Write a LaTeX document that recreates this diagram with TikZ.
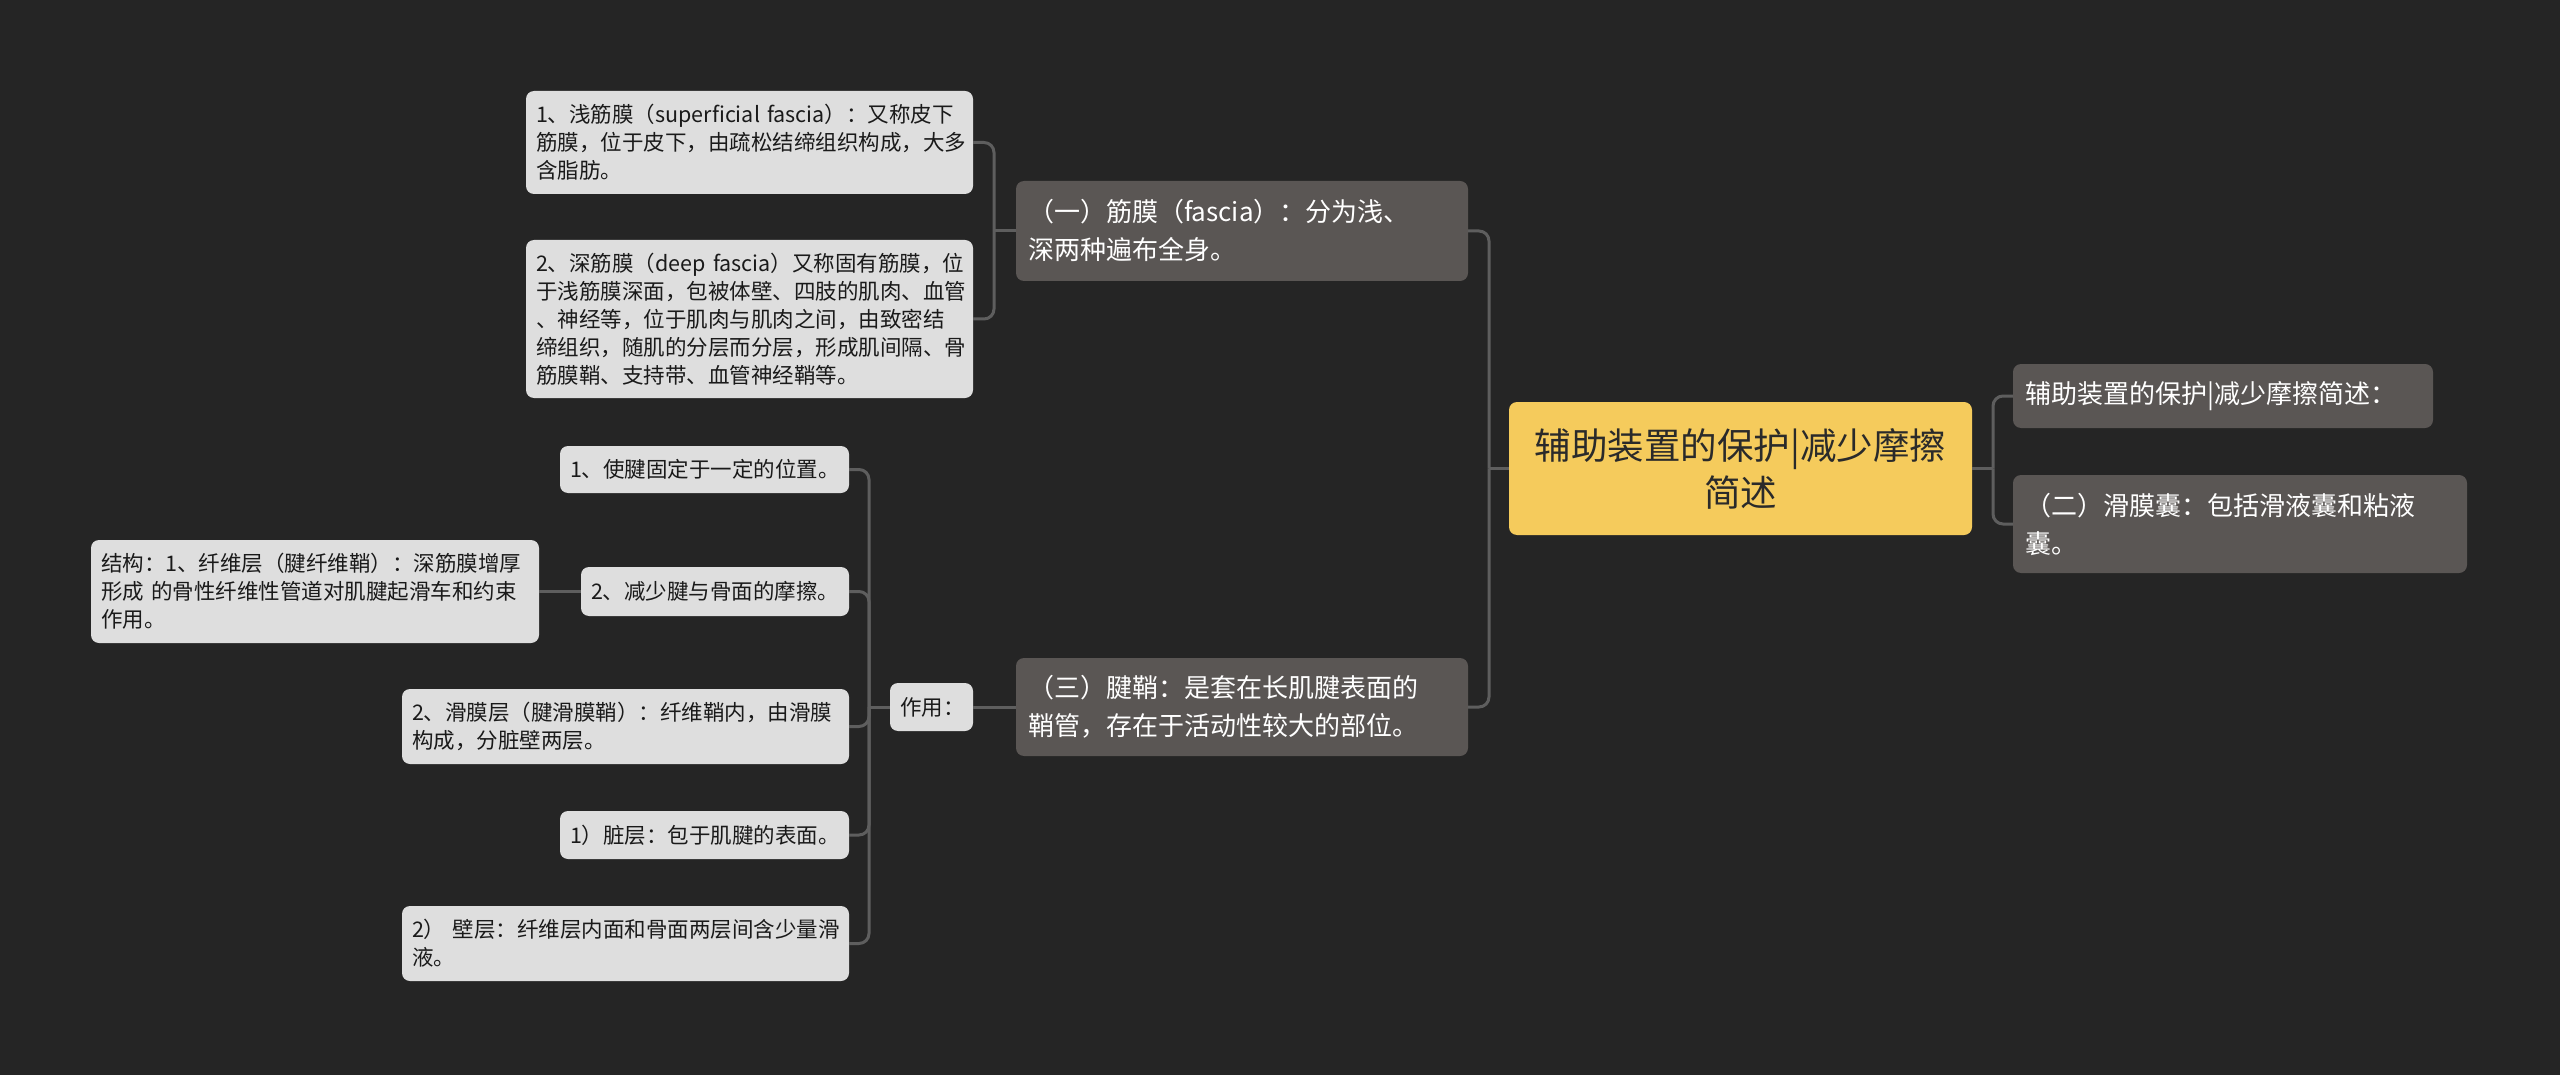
\documentclass[tikz,border=0pt]{standalone}
\usepackage{fontspec}
\setmainfont{Noto Sans CJK SC}
\definecolor{bgc}{HTML}{252525}
\definecolor{lightc}{HTML}{DEDEDE}
\definecolor{lighttext}{HTML}{1A1A1A}
\definecolor{darkc}{HTML}{5A5654}
\definecolor{rootc}{HTML}{F5CB5C}
\definecolor{roottext}{HTML}{2A2A2A}
\definecolor{connc}{HTML}{5E5E5E}
\tikzset{
  lightbox/.style={fill=lightc, text=lighttext, rounded corners=8pt, align=left,
    inner xsep=10pt, inner ysep=0pt, font=\fontsize{21.5}{28}\selectfont},
  darkbox/.style={fill=darkc, text=white, rounded corners=8pt, align=left,
    inner xsep=12pt, inner ysep=0pt, font=\fontsize{26}{38}\selectfont},
  rootbox/.style={fill=rootc, text=roottext, rounded corners=8pt, align=center,
    inner xsep=10pt, inner ysep=0pt, font=\fontsize{36.5}{47}\selectfont},
  conn/.style={draw=connc, line width=3pt, rounded corners=10pt},
}
\begin{document}
\begin{tikzpicture}[x=1pt, y=-1pt]
\useasboundingbox (0,0) rectangle (2560,1075);
\fill[bgc] (0,0) rectangle (2560,1075);

% root and right side
\node[rootbox, minimum width=463pt, minimum height=133pt, text width=443pt] (root) at (1740.5,468.5)
  {辅助装置的保护|减少摩擦\\简述};
\node[darkbox, minimum width=420pt, minimum height=64pt, text width=396pt] (R1) at (2223,396)
  {辅助装置的保护|减少摩擦简述：};
\node[darkbox, minimum width=454pt, minimum height=98pt, text width=430pt] (R2) at (2240,524)
  {（二）滑膜囊：包括滑液囊和粘液\\囊。};

% level 1 left
\node[darkbox, minimum width=452pt, minimum height=100pt, text width=428pt] (F1) at (1242,231)
  {（一）筋膜（fascia）：分为浅、\\深两种遍布全身。};
\node[darkbox, minimum width=452pt, minimum height=98pt, text width=428pt] (F3) at (1242,707)
  {（三）腱鞘：是套在长肌腱表面的\\鞘管，存在于活动性较大的部位。};

% fascia children
\node[lightbox, minimum width=447pt, minimum height=103pt, text width=427pt] (A1) at (749.5,142.5)
  {\mbox{1、浅筋膜（superficial fascia）：又称皮下}\\筋膜，位于皮下，由疏松结缔组织构成，大多\\含脂肪。};
\node[lightbox, minimum width=447pt, minimum height=158pt, text width=427pt] (A2) at (749.5,319)
  {\mbox{2、深筋膜（deep fascia）又称固有筋膜，位}\\于浅筋膜深面，包被体壁、四肢的肌肉、血管\\、神经等，位于肌肉与肌肉之间，由致密结\\缔组织，随肌的分层而分层，形成肌间隔、骨\\筋膜鞘、支持带、血管神经鞘等。};

% tendon sheath children
\node[lightbox, minimum width=83pt, minimum height=48pt, text width=63pt] (Z) at (931.5,707)
  {作用：};
\node[lightbox, minimum width=289pt, minimum height=47pt, text width=269pt] (B1) at (704.5,469.5)
  {1、使腱固定于一定的位置。};
\node[lightbox, minimum width=268pt, minimum height=49pt, text width=248pt] (B2) at (715,591.5)
  {2、减少腱与骨面的摩擦。};
\node[lightbox, minimum width=448pt, minimum height=103pt, text width=428pt] (JG) at (315,591.5)
  {结构：1、纤维层（腱纤维鞘）：深筋膜增厚\\\mbox{形成 的骨性纤维性管道对肌腱起滑车和约束}\\作用。};
\node[lightbox, minimum width=447pt, minimum height=75pt, text width=427pt] (B3) at (625.5,726.5)
  {2、滑膜层（腱滑膜鞘）：纤维鞘内，由滑膜\\构成，分脏壁两层。};
\node[lightbox, minimum width=289pt, minimum height=48pt, text width=269pt] (B4) at (704.5,835)
  {1）脏层：包于肌腱的表面。};
\node[lightbox, minimum width=447pt, minimum height=75pt, text width=427pt] (B5) at (625.5,943.5)
  {\mbox{2） 壁层：纤维层内面和骨面两层间含少量滑}\\液。};

% junction coordinates
\coordinate (jL) at (1489,468.5);
\coordinate (jR) at (1993,468.5);
\coordinate (jF) at (994,231);
\coordinate (jZ) at (869,707);

% connectors
\draw[conn] (root.west) -- (jL);
\draw[conn] (jL) |- (F1.east);
\draw[conn] (jL) |- (F3.east);
\draw[conn] (root.east) -- (jR);
\draw[conn] (jR) |- (R1.west);
\draw[conn] (jR) |- (R2.west);
\draw[conn] (F1.west) -- (jF);
\draw[conn] (jF) |- (A1.east);
\draw[conn] (jF) |- (A2.east);
\draw[conn] (F3.west) -- (Z.east);
\draw[conn] (Z.west) -- (jZ);
\draw[conn] (jZ) |- (B1.east);
\draw[conn] (jZ) |- (B2.east);
\draw[conn] (jZ) |- (B3.east);
\draw[conn] (jZ) |- (B4.east);
\draw[conn] (jZ) |- (B5.east);
\draw[conn] (B2.west) -- (JG.east);
\end{tikzpicture}
\end{document}
